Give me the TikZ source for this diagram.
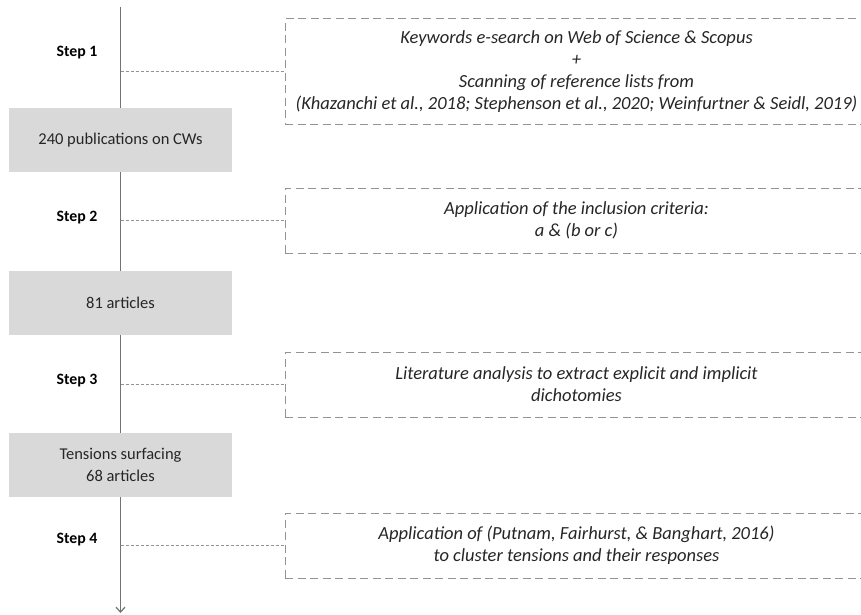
\documentclass[tikz,border=0pt]{standalone}
\usepackage{fontspec}
\setmainfont{Carlito}
\usetikzlibrary{arrows.meta,positioning}

\begin{document}
\begin{tikzpicture}[
  x=1pt, y=-1pt,
  every node/.style={font=\fontsize{16.5}{22}\selectfont, text=black!85},
  res/.style={fill=gray!30, minimum width=223pt, minimum height=64pt, align=center, inner sep=0pt},
  stp/.style={font=\fontsize{15.8}{18}\selectfont\bfseries, text=black},
  task/.style={draw=gray!85, dash pattern=on 8pt off 4.5pt, line width=1pt, minimum width=583pt,
               minimum height=65pt, align=center, inner sep=0pt, font=\fontsize{18.5}{22}\selectfont\itshape},
  lnk/.style={draw=gray!85, line width=0.8pt, dash pattern=on 3pt off 2pt},
  axis/.style={draw=gray!90!black, line width=1.2pt}
]
\useasboundingbox (0,0) rectangle (861,615);

% result boxes on the time line
\node[res] (pub) at (120.5,140) {240 publications on CWs};
\node[res] (art) at (120.5,303) {81 articles};
\node[res] (ten) at (120.5,465) {Tensions surfacing\\68 articles};

\coordinate (top) at (120.5,7);
\coordinate (end) at (120.5,613);

\draw[axis] (top) -- (pub);
\draw[axis] (pub) -- (art);
\draw[axis] (art) -- (ten);
\draw[axis, -{Straight Barb[length=5pt, width=9pt]}] (ten) -- (end);

% step labels
\node[stp] (s1) at (77,53) {Step 1};
\node[stp] (s2) at (77,218) {Step 2};
\node[stp] (s3) at (77,381) {Step 3};
\node[stp] (s4) at (77,540) {Step 4};

% task boxes
\node[task, minimum height=105pt] (d1) at (576.5,71.5) {Keywords e-search on Web of Science \& Scopus\\+\\Scanning of reference lists from\\(Khazanchi et al., 2018; Stephenson et al., 2020; Weinfurtner \& Seidl, 2019)};
\node[task] (d2) at (576.5,220.5) {Application of the inclusion criteria:\\a \& (b or c)};
\node[task] (d3) at (576.5,384.5) {Literature analysis to extract explicit and implicit\\dichotomies};
\node[task] (d4) at (576.5,545.5) {Application of (Putnam, Fairhurst, \& Banghart, 2016)\\to cluster tensions and their responses};

\coordinate (a1) at (d1.west -| top);
\coordinate (a2) at (d2.west -| top);
\coordinate (a3) at (d3.west -| top);
\coordinate (a4) at (d4.west -| top);

\draw[lnk] (a1) -- (d1.west);
\draw[lnk] (a2) -- (d2.west);
\draw[lnk] (a3) -- (d3.west);
\draw[lnk] (a4) -- (d4.west);
\end{tikzpicture}
\end{document}
